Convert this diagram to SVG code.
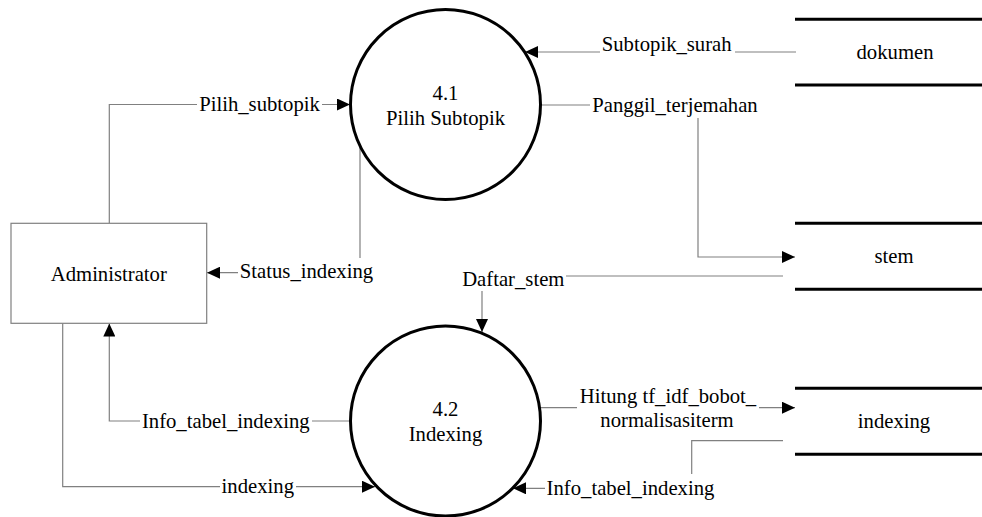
<svg xmlns="http://www.w3.org/2000/svg" width="982" height="517" viewBox="0 0 982 517" font-family="'Liberation Serif', 'DejaVu Serif', serif">
<style>
  text { font-family: "Liberation Serif", "DejaVu Serif", "Times New Roman", serif; font-size: 20.7px; fill: #000; text-anchor: middle; }
  .conn { fill: none; stroke: #808080; stroke-width: 1.2; }
  .proc { fill: #fff; stroke: #000; stroke-width: 3; }
  .store { stroke: #000; stroke-width: 3; }
  .ent { fill: #fff; stroke: #808080; stroke-width: 1.2; }
  .bg { fill: #fff; stroke: none; }
</style>
<defs>
  <marker id="arr" markerUnits="userSpaceOnUse" markerWidth="14" markerHeight="12" refX="13" refY="6" orient="auto">
    <path d="M0,0 L13,6 L0,12 Z" fill="#000"/>
  </marker>
</defs>
<rect width="982" height="517" fill="#fff"/>

<g id="connectors">
  <path class="conn" d="M109.3,223.3 V104.5 H350" marker-end="url(#arr)"/>
  <path class="conn" d="M796,52 H525" marker-end="url(#arr)"/>
  <path class="conn" d="M541,105 H698 V257 H795" marker-end="url(#arr)"/>
  <path class="conn" d="M360,147 V272.7 H207" marker-end="url(#arr)"/>
  <path class="conn" d="M783,276 H482 V332" marker-end="url(#arr)"/>
  <path class="conn" d="M350,421 H109.3 V323.5" marker-end="url(#arr)"/>
  <path class="conn" d="M62.7,323.3 V486.7 H375" marker-end="url(#arr)"/>
  <path class="conn" d="M540,407.7 H795" marker-end="url(#arr)"/>
  <path class="conn" d="M783,440.7 H691.7 V488.3 H513" marker-end="url(#arr)"/>

  <g id="lbl-pilih">
    <rect class="bg" x="197" y="95" width="125" height="20"/>
    <text x="259.5" y="111">Pilih_subtopik</text>
  </g>
  <g id="lbl-subtopik">
    <rect class="bg" x="600" y="36" width="135" height="20"/>
    <text x="666.7" y="51">Subtopik_surah</text>
  </g>
  <g id="lbl-panggil">
    <rect class="bg" x="590" y="95" width="170" height="23"/>
    <text x="675" y="111.5">Panggil_terjemahan</text>
  </g>
  <g id="lbl-status">
    <rect class="bg" x="238" y="258" width="137" height="23"/>
    <text x="306.5" y="278">Status_indexing</text>
  </g>
  <g id="lbl-daftar">
    <rect class="bg" x="461" y="268" width="105" height="23"/>
    <text x="513.3" y="286">Daftar_stem</text>
  </g>
  <g id="lbl-info-left">
    <rect class="bg" x="140" y="410" width="172" height="22"/>
    <text x="225.8" y="428">Info_tabel_indexing</text>
  </g>
  <g id="lbl-indexing">
    <rect class="bg" x="220" y="476" width="76" height="22"/>
    <text x="257.8" y="493">indexing</text>
  </g>
  <g id="lbl-hitung">
    <rect class="bg" x="577" y="386" width="182" height="46"/>
    <text x="668" y="403">Hitung tf_idf_bobot_</text>
    <text x="667" y="427">normalisasiterm</text>
  </g>
  <g id="lbl-info-right">
    <rect class="bg" x="545" y="474" width="171" height="24"/>
    <text x="630.5" y="495">Info_tabel_indexing</text>
  </g>
</g>

<g id="administrator">
  <rect class="ent" x="11" y="223.3" width="195.7" height="100"/>
  <text x="108.8" y="281">Administrator</text>
</g>

<g id="proc-4-1">
  <circle class="proc" cx="445.5" cy="104.5" r="95"/>
  <text x="445.5" y="99.5">4.1</text>
  <text x="445.5" y="124.5">Pilih Subtopik</text>
</g>

<g id="proc-4-2">
  <circle class="proc" cx="445.5" cy="421" r="95"/>
  <text x="445.5" y="415.5">4.2</text>
  <text x="445.5" y="440.5">Indexing</text>
</g>

<g id="store-dokumen">
  <line class="store" x1="795" y1="19.3" x2="982" y2="19.3"/>
  <line class="store" x1="795" y1="85" x2="982" y2="85"/>
  <text x="895" y="59">dokumen</text>
</g>

<g id="store-stem">
  <line class="store" x1="795" y1="223.3" x2="982" y2="223.3"/>
  <line class="store" x1="795" y1="289.3" x2="982" y2="289.3"/>
  <text x="894" y="263">stem</text>
</g>

<g id="store-indexing">
  <line class="store" x1="795" y1="388.3" x2="982" y2="388.3"/>
  <line class="store" x1="795" y1="454.3" x2="982" y2="454.3"/>
  <text x="894" y="428">indexing</text>
</g>
</svg>
